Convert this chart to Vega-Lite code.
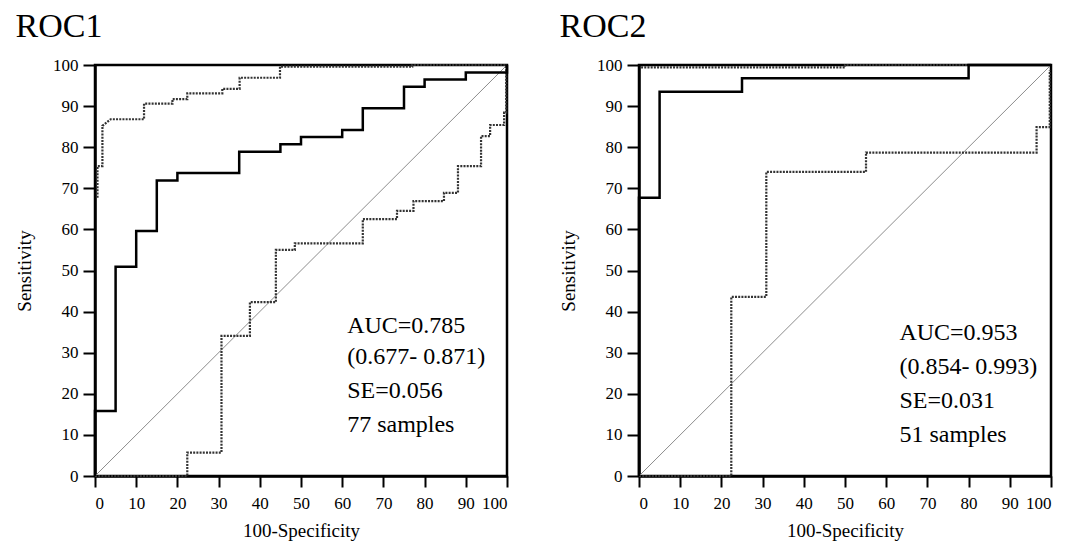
{
  "$schema": "https://vega.github.io/schema/vega-lite/v6.json",
  "background": "white",
  "padding": {"left": 14, "top": 8, "right": 0, "bottom": 0},
  "config": {
    "font": "Liberation Serif",
    "view": {"stroke": "black", "strokeWidth": 2.5},
    "axis": {
      "grid": false,
      "domainColor": "black",
      "domainWidth": 2.5,
      "tickColor": "black",
      "tickWidth": 2,
      "labelFont": "Liberation Serif",
      "labelFontSize": 17,
      "labelColor": "black",
      "titleFont": "Liberation Serif",
      "titleFontSize": 19,
      "titleFontWeight": "normal",
      "titleColor": "black"
    },
    "title": {"font": "Liberation Serif", "fontSize": 34, "fontWeight": "normal", "anchor": "start", "color": "black", "offset": 12},
    "concat": {"spacing": 44}
  },
  "datasets": {
    "roc1": [
      {"s": "diag", "i": 0, "x": 0, "y": 0}, {"s": "diag", "i": 1, "x": 100, "y": 100},
      {"s": "roc", "i": 0, "x": 0, "y": 0}, {"s": "roc", "i": 1, "x": 0, "y": 15.8}, {"s": "roc", "i": 2, "x": 5, "y": 15.8}, {"s": "roc", "i": 3, "x": 5, "y": 50.9}, {"s": "roc", "i": 4, "x": 10, "y": 50.9}, {"s": "roc", "i": 5, "x": 10, "y": 59.6}, {"s": "roc", "i": 6, "x": 15, "y": 59.6}, {"s": "roc", "i": 7, "x": 15, "y": 71.9}, {"s": "roc", "i": 8, "x": 20, "y": 71.9}, {"s": "roc", "i": 9, "x": 20, "y": 73.7}, {"s": "roc", "i": 10, "x": 35, "y": 73.7}, {"s": "roc", "i": 11, "x": 35, "y": 78.9}, {"s": "roc", "i": 12, "x": 45, "y": 78.9}, {"s": "roc", "i": 13, "x": 45, "y": 80.7}, {"s": "roc", "i": 14, "x": 50, "y": 80.7}, {"s": "roc", "i": 15, "x": 50, "y": 82.5}, {"s": "roc", "i": 16, "x": 60, "y": 82.5}, {"s": "roc", "i": 17, "x": 60, "y": 84.2}, {"s": "roc", "i": 18, "x": 65, "y": 84.2}, {"s": "roc", "i": 19, "x": 65, "y": 89.5}, {"s": "roc", "i": 20, "x": 75, "y": 89.5}, {"s": "roc", "i": 21, "x": 75, "y": 94.7}, {"s": "roc", "i": 22, "x": 80, "y": 94.7}, {"s": "roc", "i": 23, "x": 80, "y": 96.5}, {"s": "roc", "i": 24, "x": 90, "y": 96.5}, {"s": "roc", "i": 25, "x": 90, "y": 98.2}, {"s": "roc", "i": 26, "x": 100, "y": 98.2}, {"s": "roc", "i": 27, "x": 100, "y": 100},
      {"s": "upper", "i": 0, "x": 0.6, "y": 67.7}, {"s": "upper", "i": 1, "x": 0.6, "y": 75.4}, {"s": "upper", "i": 2, "x": 1.8, "y": 75.4}, {"s": "upper", "i": 3, "x": 1.8, "y": 85.2}, {"s": "upper", "i": 4, "x": 3.8, "y": 86.8}, {"s": "upper", "i": 5, "x": 11.9, "y": 86.8}, {"s": "upper", "i": 6, "x": 11.9, "y": 90.6}, {"s": "upper", "i": 7, "x": 18.8, "y": 90.6}, {"s": "upper", "i": 8, "x": 18.8, "y": 91.7}, {"s": "upper", "i": 9, "x": 22.4, "y": 91.7}, {"s": "upper", "i": 10, "x": 22.4, "y": 93.1}, {"s": "upper", "i": 11, "x": 30.9, "y": 93.1}, {"s": "upper", "i": 12, "x": 30.9, "y": 94.2}, {"s": "upper", "i": 13, "x": 35.1, "y": 94.2}, {"s": "upper", "i": 14, "x": 35.1, "y": 96.9}, {"s": "upper", "i": 15, "x": 44.9, "y": 96.9}, {"s": "upper", "i": 16, "x": 44.9, "y": 99.6}, {"s": "upper", "i": 17, "x": 77, "y": 99.6}, {"s": "upper", "i": 18, "x": 77, "y": 100}, {"s": "upper", "i": 19, "x": 100, "y": 100},
      {"s": "lower", "i": 0, "x": 0, "y": 0}, {"s": "lower", "i": 1, "x": 22.4, "y": 0}, {"s": "lower", "i": 2, "x": 22.4, "y": 5.7}, {"s": "lower", "i": 3, "x": 30.7, "y": 5.7}, {"s": "lower", "i": 4, "x": 30.7, "y": 34.1}, {"s": "lower", "i": 5, "x": 37.6, "y": 34.1}, {"s": "lower", "i": 6, "x": 37.6, "y": 42.3}, {"s": "lower", "i": 7, "x": 43.9, "y": 42.3}, {"s": "lower", "i": 8, "x": 43.9, "y": 55}, {"s": "lower", "i": 9, "x": 48.5, "y": 55}, {"s": "lower", "i": 10, "x": 48.5, "y": 56.6}, {"s": "lower", "i": 11, "x": 65, "y": 56.6}, {"s": "lower", "i": 12, "x": 65, "y": 62.5}, {"s": "lower", "i": 13, "x": 73.3, "y": 62.5}, {"s": "lower", "i": 14, "x": 73.3, "y": 64.5}, {"s": "lower", "i": 15, "x": 77.3, "y": 64.5}, {"s": "lower", "i": 16, "x": 77.3, "y": 66.9}, {"s": "lower", "i": 17, "x": 84.7, "y": 66.9}, {"s": "lower", "i": 18, "x": 84.7, "y": 68.9}, {"s": "lower", "i": 19, "x": 88.1, "y": 68.9}, {"s": "lower", "i": 20, "x": 88.1, "y": 75.4}, {"s": "lower", "i": 21, "x": 93.7, "y": 75.4}, {"s": "lower", "i": 22, "x": 93.7, "y": 82.7}, {"s": "lower", "i": 23, "x": 95.9, "y": 82.7}, {"s": "lower", "i": 24, "x": 95.9, "y": 85.4}, {"s": "lower", "i": 25, "x": 99.3, "y": 85.4}, {"s": "lower", "i": 26, "x": 99.3, "y": 88.4}, {"s": "lower", "i": 27, "x": 99.8, "y": 88.4}, {"s": "lower", "i": 28, "x": 99.8, "y": 100}
    ],
    "roc2": [
      {"s": "diag", "i": 0, "x": 0, "y": 0}, {"s": "diag", "i": 1, "x": 100, "y": 100},
      {"s": "roc", "i": 0, "x": 0, "y": 0}, {"s": "roc", "i": 1, "x": 0, "y": 67.7}, {"s": "roc", "i": 2, "x": 5, "y": 67.7}, {"s": "roc", "i": 3, "x": 5, "y": 93.5}, {"s": "roc", "i": 4, "x": 25, "y": 93.5}, {"s": "roc", "i": 5, "x": 25, "y": 96.8}, {"s": "roc", "i": 6, "x": 80, "y": 96.8}, {"s": "roc", "i": 7, "x": 80, "y": 100}, {"s": "roc", "i": 8, "x": 100, "y": 100},
      {"s": "upper", "i": 0, "x": 0.5, "y": 99.4}, {"s": "upper", "i": 1, "x": 50, "y": 99.4}, {"s": "upper", "i": 2, "x": 50, "y": 100}, {"s": "upper", "i": 3, "x": 100, "y": 100},
      {"s": "lower", "i": 0, "x": 0, "y": 0}, {"s": "lower", "i": 1, "x": 22.4, "y": 0}, {"s": "lower", "i": 2, "x": 22.4, "y": 43.6}, {"s": "lower", "i": 3, "x": 30.9, "y": 43.6}, {"s": "lower", "i": 4, "x": 30.9, "y": 74}, {"s": "lower", "i": 5, "x": 55.1, "y": 74}, {"s": "lower", "i": 6, "x": 55.1, "y": 78.7}, {"s": "lower", "i": 7, "x": 96.5, "y": 78.7}, {"s": "lower", "i": 8, "x": 96.5, "y": 84.9}, {"s": "lower", "i": 9, "x": 99.7, "y": 84.9}, {"s": "lower", "i": 10, "x": 99.7, "y": 98.7}
    ]
  },
  "hconcat": [
    {
      "title": "ROC1",
      "width": 412,
      "height": 411,
      "layer": [
        {"data": {"name": "roc1"}, "transform": [{"filter": "datum.s === 'diag'"}], "mark": {"type": "line", "color": "#8c8c8c", "strokeWidth": 1},
          "encoding": {
            "x": {"field": "x", "type": "quantitative", "scale": {"domain": [0, 100], "nice": false},
              "axis": {"title": "100-Specificity", "values": [0,5,10,15,20,25,30,35,40,45,50,55,60,65,70,75,80,85,90,95,100],
                "labelExpr": "datum.value % 10 === 0 ? datum.label : ''",
                "tickSize": {"condition": {"test": "datum.value % 10 === 0", "value": 11}, "value": 5},
                "labelPadding": 8, "titlePadding": 10}},
            "y": {"field": "y", "type": "quantitative", "scale": {"domain": [0, 100], "nice": false},
              "axis": {"title": "Sensitivity", "values": [0,5,10,15,20,25,30,35,40,45,50,55,60,65,70,75,80,85,90,95,100],
                "labelExpr": "datum.value % 10 === 0 ? datum.label : ''",
                "tickSize": {"condition": {"test": "datum.value % 10 === 0", "value": 12}, "value": 5},
                "labelPadding": 5, "titlePadding": 18}},
            "order": {"field": "i", "type": "quantitative"}}},
        {"data": {"name": "roc1"}, "transform": [{"filter": "datum.s === 'upper' || datum.s === 'lower'"}], "mark": {"type": "line", "color": "#333333", "strokeWidth": 2.2, "strokeDash": [2, 1.2]},
          "encoding": {"x": {"field": "x", "type": "quantitative"}, "y": {"field": "y", "type": "quantitative"}, "detail": {"field": "s"}, "order": {"field": "i", "type": "quantitative"}}},
        {"data": {"name": "roc1"}, "transform": [{"filter": "datum.s === 'roc'"}], "mark": {"type": "line", "color": "black", "strokeWidth": 2.5},
          "encoding": {"x": {"field": "x", "type": "quantitative"}, "y": {"field": "y", "type": "quantitative"}, "order": {"field": "i", "type": "quantitative"}}},
        {"data": {"values": [
            {"t": "AUC=0.785", "tx": 61.2, "ty": 36.6},
            {"t": "(0.677- 0.871)", "tx": 61.2, "ty": 28.9},
            {"t": "SE=0.056", "tx": 61.2, "ty": 20.6},
            {"t": "77 samples", "tx": 61.2, "ty": 12.3}]},
          "mark": {"type": "text", "align": "left", "baseline": "middle", "fontSize": 24, "font": "Liberation Serif", "color": "black"},
          "encoding": {"x": {"field": "tx", "type": "quantitative"}, "y": {"field": "ty", "type": "quantitative"}, "text": {"field": "t", "type": "nominal"}}}
      ]
    },
    {
      "title": "ROC2",
      "width": 412,
      "height": 411,
      "layer": [
        {"data": {"name": "roc2"}, "transform": [{"filter": "datum.s === 'diag'"}], "mark": {"type": "line", "color": "#8c8c8c", "strokeWidth": 1},
          "encoding": {
            "x": {"field": "x", "type": "quantitative", "scale": {"domain": [0, 100], "nice": false},
              "axis": {"title": "100-Specificity", "values": [0,10,20,30,40,50,60,70,80,90,100], "tickSize": 11,
                "labelPadding": 8, "titlePadding": 10}},
            "y": {"field": "y", "type": "quantitative", "scale": {"domain": [0, 100], "nice": false},
              "axis": {"title": "Sensitivity", "values": [0,5,10,15,20,25,30,35,40,45,50,55,60,65,70,75,80,85,90,95,100],
                "labelExpr": "datum.value % 10 === 0 ? datum.label : ''",
                "tickSize": {"condition": {"test": "datum.value % 10 === 0", "value": 12}, "value": 5},
                "labelPadding": 5, "titlePadding": 18}},
            "order": {"field": "i", "type": "quantitative"}}},
        {"data": {"name": "roc2"}, "transform": [{"filter": "datum.s === 'upper' || datum.s === 'lower'"}], "mark": {"type": "line", "color": "#333333", "strokeWidth": 2.2, "strokeDash": [2, 1.2]},
          "encoding": {"x": {"field": "x", "type": "quantitative"}, "y": {"field": "y", "type": "quantitative"}, "detail": {"field": "s"}, "order": {"field": "i", "type": "quantitative"}}},
        {"data": {"name": "roc2"}, "transform": [{"filter": "datum.s === 'roc'"}], "mark": {"type": "line", "color": "black", "strokeWidth": 2.5},
          "encoding": {"x": {"field": "x", "type": "quantitative"}, "y": {"field": "y", "type": "quantitative"}, "order": {"field": "i", "type": "quantitative"}}},
        {"data": {"values": [
            {"t": "AUC=0.953", "tx": 63.2, "ty": 34.8},
            {"t": "(0.854- 0.993)", "tx": 63.2, "ty": 26.5},
            {"t": "SE=0.031", "tx": 63.2, "ty": 18.2},
            {"t": "51 samples", "tx": 63.2, "ty": 10.0}]},
          "mark": {"type": "text", "align": "left", "baseline": "middle", "fontSize": 24, "font": "Liberation Serif", "color": "black"},
          "encoding": {"x": {"field": "tx", "type": "quantitative"}, "y": {"field": "ty", "type": "quantitative"}, "text": {"field": "t", "type": "nominal"}}}
      ]
    }
  ]
}
